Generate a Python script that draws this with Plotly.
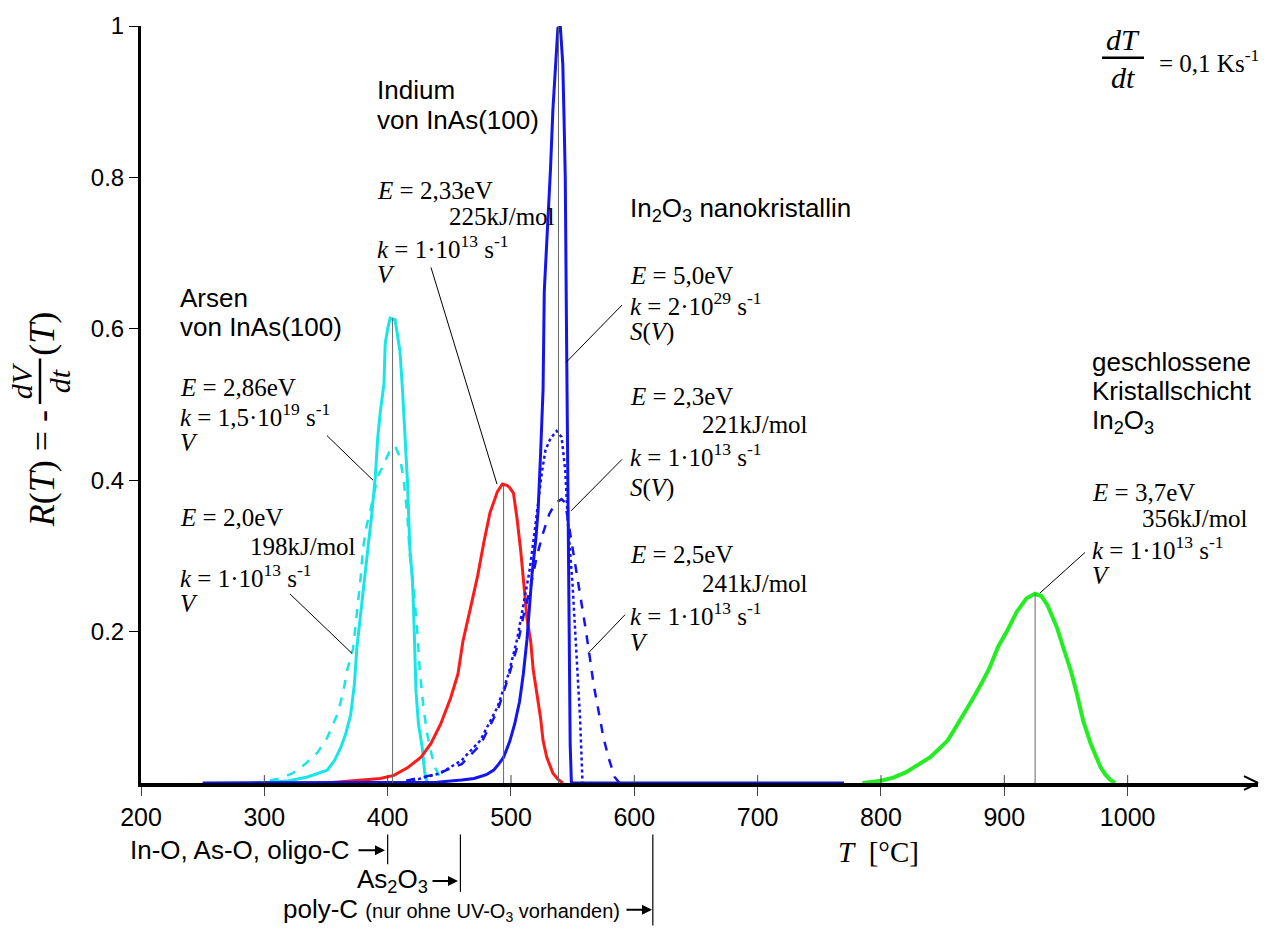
import plotly.graph_objects as go

# ---------------- data ----------------
temp_cyan_solid = [300, 320, 335, 345, 351, 357, 362, 366, 370, 373, 375, 378, 381, 384, 387, 390, 392, 394,
                   397, 398, 400, 402, 406, 408, 410, 412, 413, 415, 416, 418, 420, 421, 422, 423, 425, 428, 430, 432]
rate_cyan_solid = [0.0, 0.003, 0.008, 0.013, 0.017, 0.03, 0.047, 0.065, 0.09, 0.13, 0.178, 0.222, 0.27, 0.31,
                   0.353, 0.405, 0.457, 0.49, 0.527, 0.58, 0.6, 0.614, 0.612, 0.59, 0.57, 0.52, 0.49, 0.44, 0.40,
                   0.31, 0.27, 0.23, 0.16, 0.12, 0.078, 0.047, 0.015, 0.0]

temp_cyan_dash = [290, 300, 313, 323, 333, 343, 351, 359, 364, 367, 372, 375, 378, 380, 383, 386, 389, 392,
                  396, 399, 402, 406, 410, 413, 416, 418, 421, 424, 426, 429, 432, 436, 439, 443, 447]
rate_cyan_dash = [0.0, 0.002, 0.006, 0.013, 0.025, 0.04, 0.06, 0.09, 0.12, 0.148, 0.178, 0.222, 0.27, 0.31,
                  0.34, 0.36, 0.385, 0.405, 0.418, 0.43, 0.44, 0.445, 0.43, 0.40, 0.353, 0.30, 0.26, 0.20, 0.15,
                  0.10, 0.065, 0.035, 0.018, 0.007, 0.0]

temp_red = [350, 370, 394, 405, 416, 427, 435, 443, 451, 457, 461, 467, 473, 478, 483, 489, 493, 497, 499,
            502, 505, 508, 510, 513, 516, 518, 521, 524, 526, 529, 534, 538, 542]
rate_red = [0.0, 0.003, 0.006, 0.01, 0.02, 0.034, 0.052, 0.078, 0.112, 0.144, 0.187, 0.23, 0.274, 0.318,
            0.357, 0.385, 0.395, 0.393, 0.39, 0.383, 0.348, 0.305, 0.265, 0.217, 0.187, 0.15, 0.118, 0.086,
            0.056, 0.034, 0.013, 0.005, 0.0]

temp_blue_solid = [250, 440, 460, 470, 480, 486, 490, 494, 499, 503, 507, 510, 513, 515, 517, 520, 522, 524,
                   526, 527, 530, 532, 534, 536, 538, 540, 542, 543, 544, 545, 546, 547, 548, 549, 770]
rate_blue_solid = [0.0, 0.001, 0.004, 0.006, 0.011, 0.017, 0.025, 0.034, 0.055, 0.078, 0.108, 0.144, 0.19,
                   0.235, 0.275, 0.32, 0.36, 0.435, 0.52, 0.65, 0.74, 0.81, 0.89, 0.95, 0.997, 1.0, 0.95, 0.88,
                   0.8, 0.6, 0.42, 0.22, 0.05, 0.0, 0.0]

temp_blue_dot = [420, 443, 460, 475, 489, 498, 505, 510, 515, 519, 522, 525, 528, 532, 537, 541, 544, 546,
                 550, 553, 556, 558]
rate_blue_dot = [0.003, 0.013, 0.03, 0.056, 0.1, 0.144, 0.19, 0.235, 0.28, 0.33, 0.37, 0.41, 0.44, 0.455,
                 0.465, 0.457, 0.413, 0.348, 0.26, 0.174, 0.086, 0.0]

temp_blue_dash = [415, 440, 460, 475, 489, 498, 505, 510, 516, 521, 526, 531, 536, 541, 544, 546, 548, 552,
                  556, 560, 564, 567, 571, 575, 579, 584, 588]
rate_blue_dash = [0.003, 0.012, 0.025, 0.05, 0.095, 0.14, 0.18, 0.22, 0.26, 0.3, 0.33, 0.355, 0.37, 0.375,
                  0.37, 0.35, 0.335, 0.295, 0.252, 0.209, 0.165, 0.13, 0.095, 0.06, 0.034, 0.008, 0.0]

temp_green = [785, 790, 800, 810, 820, 826, 833, 840, 847, 854, 860, 867, 874, 881, 888, 895, 902, 910, 918,
              925, 930, 935, 943, 948, 954, 959, 964, 970, 974, 978, 982, 986, 990]
rate_green = [0.0, 0.001, 0.003, 0.007, 0.014, 0.02, 0.027, 0.034, 0.045, 0.056, 0.072, 0.09, 0.11, 0.13,
              0.152, 0.18, 0.2, 0.226, 0.244, 0.25, 0.247, 0.235, 0.204, 0.178, 0.148, 0.117, 0.082, 0.052,
              0.035, 0.021, 0.011, 0.004, 0.0]

peak_temps = [404, 494, 538.5, 925]
peak_rates = [0.614, 0.395, 1.0, 0.25]

marker_temps = [400, 459, 615]

x_ticks = [200, 300, 400, 500, 600, 700, 800, 900, 1000]
y_ticks = [0.2, 0.4, 0.6, 0.8, 1.0]
y_tick_text = ["0.2", "0.4", "0.6", "0.8", "1"]

# ---------------- layout helpers ----------------
W, H = 1277, 931
ML, MR, MT, MB = 141, 19, 18, 148
PW = W - ML - MR
PH = H - MT - MB


def xp(px):
    return (px - ML) / PW


def yp(py):
    return (H - MB - py) / PH


SERIF = "Liberation Serif, Times New Roman, serif"
SANS = "Liberation Sans, Arial, sans-serif"

CYAN = "#18e6e6"
RED = "#ff1a1a"
BLUE = "#1414f0"
GREEN = "#22ee22"

fig = go.Figure()


def add_curve(x, y, color, dash, width):
    fig.add_trace(go.Scatter(x=x, y=y, mode="lines", line=dict(color=color, dash=dash, width=width),
                             hoverinfo="skip", showlegend=False))


add_curve(temp_cyan_dash, rate_cyan_dash, CYAN, "dash", 2.5)
add_curve(temp_cyan_solid, rate_cyan_solid, CYAN, "solid", 3)
add_curve(temp_red, rate_red, RED, "solid", 3)
add_curve(temp_blue_dash, rate_blue_dash, BLUE, "dash", 2.5)
add_curve(temp_blue_dot, rate_blue_dot, BLUE, "dot", 2.5)
add_curve(temp_blue_solid, rate_blue_solid, BLUE, "solid", 3)
add_curve(temp_green, rate_green, GREEN, "solid", 4)

for t, r in zip(peak_temps, peak_rates):
    fig.add_trace(go.Scatter(x=[t, t], y=[-0.01, r], mode="lines", line=dict(color="#666666", width=1),
                             hoverinfo="skip", showlegend=False, cliponaxis=False))

shapes = []
annotations = []


def line_px(x0, y0, x1, y1, width=1, color="black"):
    shapes.append(dict(type="line", xref="paper", yref="paper", x0=xp(x0), y0=yp(y0), x1=xp(x1), y1=yp(y1),
                       line=dict(color=color, width=width)))


def text(s, x, y, size, family, xanchor="left", angle=0):
    annotations.append(dict(text=s, x=xp(x), y=yp(y), xref="paper", yref="paper", showarrow=False,
                            xanchor=xanchor, yanchor="middle", textangle=angle,
                            font=dict(size=size, family=family, color="black")))


# x tick marks also cross above the axis line
for t in x_ticks[1:]:
    shapes.append(dict(type="line", xref="x", yref="paper", x0=t, x1=t, y0=0, y1=yp(775),
                       line=dict(color="#444444", width=1)))

# leader lines
line_px(431, 262, 497, 481)
line_px(327, 432, 373, 477)
line_px(290, 592, 352, 652)
line_px(622, 300, 566, 358)
line_px(622, 456, 571, 508)
line_px(625, 613, 588, 652)
line_px(1085, 550, 1040, 591)

# x axis arrow head
line_px(1258, 783, 1244, 776, width=2)
line_px(1258, 783, 1244, 790, width=2)

# bottom region markers
for t, ybot in zip(marker_temps, [865, 893, 927]):
    shapes.append(dict(type="line", xref="x", yref="paper", x0=t, x1=t, y0=yp(835), y1=yp(ybot),
                       line=dict(color="black", width=1.2)))

ms = 26
ts = 25
# Indium block
text("Indium", 375, 83, ms, SANS)
text("von InAs(100)", 375, 113, ms, SANS)
text("<i>E</i> = 2,33eV", 375, 184, ts, SERIF)
text("225kJ/mol", 447, 211, ts, SERIF)
text("<i>k</i> = 1·10<sup>13</sup> s<sup>-1</sup>", 375, 241, ts, SERIF)
text("<i>V</i>", 375, 269, ts, SERIF)

# Arsen block
text("Arsen", 178, 293, ms, SANS)
text("von InAs(100)", 178, 322, ms, SANS)
text("<i>E</i> = 2,86eV", 178, 383, ts, SERIF)
text("<i>k</i> = 1,5·10<sup>19</sup> s<sup>-1</sup>", 178, 411, ts, SERIF)
text("<i>V</i>", 178, 439, ts, SERIF)
text("<i>E</i> = 2,0eV", 178, 515, ts, SERIF)
text("198kJ/mol", 248, 544, ts, SERIF)
text("<i>k</i> = 1·10<sup>13</sup> s<sup>-1</sup>", 178, 574, ts, SERIF)
text("<i>V</i>", 178, 602, ts, SERIF)

# In2O3 nanocrystalline block
text("In<sub>2</sub>O<sub>3</sub> nanokristallin", 628, 203, ms, SANS)
text("<i>E</i> = 5,0eV", 628, 270, ts, SERIF)
text("<i>k</i> = 2·10<sup>29</sup> s<sup>-1</sup>", 628, 299, ts, SERIF)
text("<i>S</i>(<i>V</i>)", 628, 327, ts, SERIF)
text("<i>E</i> = 2,3eV", 628, 392, ts, SERIF)
text("221kJ/mol", 700, 421, ts, SERIF)
text("<i>k</i> = 1·10<sup>13</sup> s<sup>-1</sup>", 628, 452, ts, SERIF)
text("<i>S</i>(<i>V</i>)", 628, 485, ts, SERIF)
text("<i>E</i> = 2,5eV", 628, 552, ts, SERIF)
text("241kJ/mol", 700, 581, ts, SERIF)
text("<i>k</i> = 1·10<sup>13</sup> s<sup>-1</sup>", 628, 612, ts, SERIF)
text("<i>V</i>", 628, 641, ts, SERIF)

# closed crystal layer block
text("geschlossene", 1090, 358, ms, SANS)
text("Kristallschicht", 1090, 387, ms, SANS)
text("In<sub>2</sub>O<sub>3</sub>", 1090, 418, ms, SANS)
text("<i>E</i> = 3,7eV", 1090, 489, ts, SERIF)
text("356kJ/mol", 1140, 516, ts, SERIF)
text("<i>k</i> = 1·10<sup>13</sup> s<sup>-1</sup>", 1090, 546, ts, SERIF)
text("<i>V</i>", 1090, 573, ts, SERIF)

# heating rate dT/dt
text("<i>dT</i>", 1123, 32, 30, SERIF, xanchor="center")
line_px(1102, 50, 1144, 50, width=2.5)
text("<i>dt</i>", 1123, 70, 30, SERIF, xanchor="center")
text("= 0,1 Ks<sup>-1</sup>", 1157, 53, 25, SERIF)

# y axis title (rotated)
text("<i>R</i>(<i>T</i>) = -", 42, 466, 36, SERIF, xanchor="center", angle=-90)
text("<i>dV</i>", 21, 377, 30, SERIF, xanchor="center", angle=-90)
text("<i>dt</i>", 59, 377, 30, SERIF, xanchor="center", angle=-90)
line_px(40, 354, 40, 400, width=2.5)
text("(<i>T</i>)", 42, 329, 36, SERIF, xanchor="center", angle=-90)

# x axis title
text("<i>T</i>  [°C]", 878, 853, 29, SERIF, xanchor="center")

# bottom temperature region labels
text("In-O, As-O, oligo-C", 352, 851, 26, SANS, xanchor="right")
text("As<sub>2</sub>O<sub>3</sub>", 430, 882, 26, SANS, xanchor="right")
text("poly-C <span style='font-size:20px'>(nur ohne UV-O<sub>3</sub> vorhanden)</span>", 622, 911, 26, SANS,
     xanchor="right")
for xs, xe, yy in [(357, 385, 851), (431, 458, 882), (625, 652, 911)]:
    annotations.append(dict(text="", x=xp(xe), y=yp(yy), xref="paper", yref="paper", showarrow=True,
                            ax=xs - xe, ay=0, arrowhead=2, arrowsize=1, arrowwidth=2, arrowcolor="black"))

fig.update_layout(
    width=W, height=H,
    margin=dict(l=ML, r=MR, t=MT, b=MB),
    paper_bgcolor="white", plot_bgcolor="white",
    showlegend=False,
    shapes=shapes,
    annotations=annotations,
    xaxis=dict(range=[200, 1105.7], showgrid=False, zeroline=False, showline=True, linecolor="black",
               linewidth=3.5, tickmode="array", tickvals=x_ticks, ticks="outside", ticklen=9, tickwidth=1,
               tickcolor="#444444", tickfont=dict(family=SANS, size=25, color="black")),
    yaxis=dict(range=[0, 1.0], showgrid=False, zeroline=False, showline=True, linecolor="black",
               linewidth=3, tickmode="array", tickvals=y_ticks, ticktext=y_tick_text, ticks="outside",
               ticklen=9, tickwidth=1, tickcolor="black", tickfont=dict(family=SANS, size=24, color="black")),
)

fig.write_html("out.html", config={"displayModeBar": False},
               post_script="document.body.style.margin='0px';")
